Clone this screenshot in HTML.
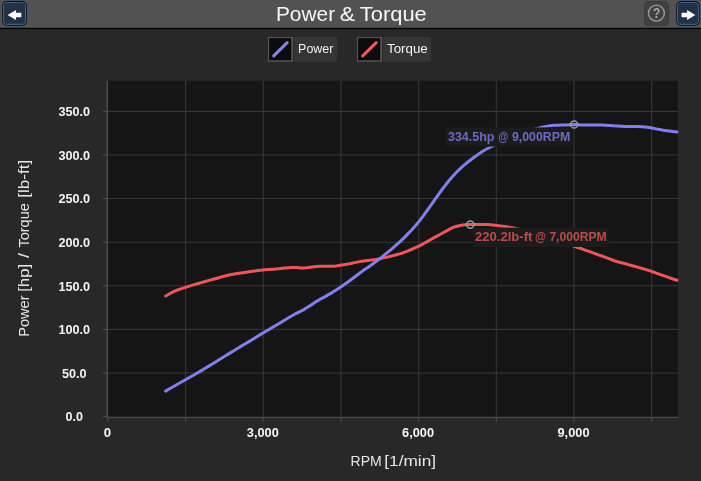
<!DOCTYPE html>
<html><head><meta charset="utf-8"><title>Power &amp; Torque</title>
<style>
html,body{margin:0;padding:0;}
body{width:701px;height:481px;background:#282828;overflow:hidden;position:relative;font-family:"Liberation Sans","DejaVu Sans",sans-serif;}
svg{position:absolute;left:0;top:0;display:block;}
svg text{font-family:"Liberation Sans","DejaVu Sans",sans-serif;}
.tk{font-size:12px;font-weight:bold;fill:#f4f4f4;}
.ax{font-size:14px;fill:#e6e6e6;}
.lg{font-size:12.5px;fill:#f2f2f2;}
.ttl{font-size:19.5px;fill:#f6f6f6;}
.pk{font-size:12px;font-weight:bold;}
</style></head><body>
<svg width="701" height="481" viewBox="0 0 701 481">
<!-- header -->
<rect x="0" y="0" width="701" height="28" fill="#525252"/>
<rect x="0" y="27.8" width="701" height="1.3" fill="#020202"/>
<text x="275.9" y="20.9" textLength="59.2" lengthAdjust="spacingAndGlyphs" class="ttl" >Power</text>
<text x="339.7" y="20.9" textLength="15.3" lengthAdjust="spacingAndGlyphs" class="ttl" >&amp;</text>
<text x="359.8" y="20.9" textLength="67" lengthAdjust="spacingAndGlyphs" class="ttl" >Torque</text>

<rect x="2.0999999999999996" y="1.1" width="24.799999999999997" height="24.6" rx="5" fill="#0b0b0b"/>
<rect x="2.8" y="1.9" width="23.4" height="23.1" rx="4.5" fill="#3a5f8b"/>
<rect x="3.9499999999999997" y="3.05" width="21.099999999999998" height="20.8" rx="3.4" fill="#223145"/>
<path d="M7.6 14.95 L16 9.9 L16 12.7 L21.3 12.7 L21.3 17.2 L16 17.2 L16 20 Z" fill="#fff"/>
<rect x="676.1999999999999" y="1.1" width="23.599999999999998" height="24.6" rx="5" fill="#0b0b0b"/>
<rect x="676.9" y="1.9" width="22.2" height="23.1" rx="4.5" fill="#3a5f8b"/>
<rect x="678.05" y="3.05" width="19.9" height="20.8" rx="3.4" fill="#223145"/>
<path d="M695.3 14.95 L687.1 9.9 L687.1 12.7 L681.6 12.7 L681.6 17.2 L687.1 17.2 L687.1 20 Z" fill="#fff"/>
<rect x="644.1" y="1.1" width="24.7" height="24.6" rx="4.5" fill="#383838"/>
<rect x="645" y="2" width="22.9" height="22.8" rx="3.8" fill="#414141"/>
<circle cx="656.4" cy="13.1" r="8" fill="none" stroke="#9a9a9a" stroke-width="1.4"/>
<text transform="translate(656.6 18.3) scale(0.84 1)" text-anchor="middle" font-size="14.2" font-weight="bold" fill="#a6a6a6">?</text>
<!-- legend -->
<rect x="268" y="37" width="25" height="24.7" fill="#565656"/>
<rect x="269.1" y="38.1" width="22.2" height="22.2" fill="#0c0c0c"/>
<rect x="294" y="37" width="43" height="24.7" fill="#353535"/>
<line x1="273.7" y1="55.9" x2="287.2" y2="42.6" stroke="#8482f0" stroke-width="3" stroke-linecap="round"/>
<text x="298.1" y="53.1" textLength="35.2" lengthAdjust="spacingAndGlyphs" class="lg" >Power</text>

<rect x="357" y="37" width="25" height="24.7" fill="#565656"/>
<rect x="358.1" y="38.1" width="22.2" height="22.2" fill="#0c0c0c"/>
<rect x="383" y="37" width="48" height="24.7" fill="#353535"/>
<line x1="362.7" y1="55.9" x2="376.2" y2="42.6" stroke="#f25a5e" stroke-width="3" stroke-linecap="round"/>
<text x="387" y="53.1" textLength="40.8" lengthAdjust="spacingAndGlyphs" class="lg" >Torque</text>

<!-- plot -->
<rect x="108" y="80.8" width="570" height="336.4" fill="#151515"/>
<line x1="185.58" y1="81" x2="185.58" y2="417" stroke="#363636" stroke-width="1.1"/>
<line x1="185.58" y1="417" x2="185.58" y2="421.7" stroke="#4b4b4b" stroke-width="1.2"/>
<line x1="263.26" y1="81" x2="263.26" y2="417" stroke="#363636" stroke-width="1.1"/>
<line x1="263.26" y1="417" x2="263.26" y2="421.7" stroke="#4b4b4b" stroke-width="1.2"/>
<line x1="340.94" y1="81" x2="340.94" y2="417" stroke="#363636" stroke-width="1.1"/>
<line x1="340.94" y1="417" x2="340.94" y2="421.7" stroke="#4b4b4b" stroke-width="1.2"/>
<line x1="418.62" y1="81" x2="418.62" y2="417" stroke="#363636" stroke-width="1.1"/>
<line x1="418.62" y1="417" x2="418.62" y2="421.7" stroke="#4b4b4b" stroke-width="1.2"/>
<line x1="496.30" y1="81" x2="496.30" y2="417" stroke="#363636" stroke-width="1.1"/>
<line x1="496.30" y1="417" x2="496.30" y2="421.7" stroke="#4b4b4b" stroke-width="1.2"/>
<line x1="573.98" y1="81" x2="573.98" y2="417" stroke="#363636" stroke-width="1.1"/>
<line x1="573.98" y1="417" x2="573.98" y2="421.7" stroke="#4b4b4b" stroke-width="1.2"/>
<line x1="651.66" y1="81" x2="651.66" y2="417" stroke="#363636" stroke-width="1.1"/>
<line x1="651.66" y1="417" x2="651.66" y2="421.7" stroke="#4b4b4b" stroke-width="1.2"/>
<line x1="108" y1="373.03" x2="678" y2="373.03" stroke="#363636" stroke-width="1.1"/>
<line x1="108" y1="329.42" x2="678" y2="329.42" stroke="#363636" stroke-width="1.1"/>
<line x1="108" y1="285.80" x2="678" y2="285.80" stroke="#363636" stroke-width="1.1"/>
<line x1="108" y1="242.19" x2="678" y2="242.19" stroke="#363636" stroke-width="1.1"/>
<line x1="108" y1="198.57" x2="678" y2="198.57" stroke="#363636" stroke-width="1.1"/>
<line x1="108" y1="154.96" x2="678" y2="154.96" stroke="#363636" stroke-width="1.1"/>
<line x1="108" y1="111.34" x2="678" y2="111.34" stroke="#363636" stroke-width="1.1"/>

<line x1="107.3" y1="80.8" x2="107.3" y2="417.5" stroke="#4b4b4b" stroke-width="1.6"/>
<line x1="106.6" y1="417.4" x2="678" y2="417.4" stroke="#4b4b4b" stroke-width="1.4"/>
<line x1="107.8" y1="417" x2="107.8" y2="421.7" stroke="#4b4b4b" stroke-width="1.2"/>
<line x1="103" y1="416.65" x2="108" y2="416.65" stroke="#4b4b4b" stroke-width="1.2"/>
<line x1="103" y1="373.03" x2="108" y2="373.03" stroke="#4b4b4b" stroke-width="1.2"/>
<line x1="103" y1="329.42" x2="108" y2="329.42" stroke="#4b4b4b" stroke-width="1.2"/>
<line x1="103" y1="285.80" x2="108" y2="285.80" stroke="#4b4b4b" stroke-width="1.2"/>
<line x1="103" y1="242.19" x2="108" y2="242.19" stroke="#4b4b4b" stroke-width="1.2"/>
<line x1="103" y1="198.57" x2="108" y2="198.57" stroke="#4b4b4b" stroke-width="1.2"/>
<line x1="103" y1="154.96" x2="108" y2="154.96" stroke="#4b4b4b" stroke-width="1.2"/>
<line x1="103" y1="111.34" x2="108" y2="111.34" stroke="#4b4b4b" stroke-width="1.2"/>

<text x="65.6" y="421.4" textLength="17.4" lengthAdjust="spacingAndGlyphs" class="tk" >0.0</text>
<text x="62.0" y="377.8" textLength="24.6" lengthAdjust="spacingAndGlyphs" class="tk" >50.0</text>
<text x="58.4" y="334.2" textLength="31.8" lengthAdjust="spacingAndGlyphs" class="tk" >100.0</text>
<text x="58.4" y="290.6" textLength="31.8" lengthAdjust="spacingAndGlyphs" class="tk" >150.0</text>
<text x="58.4" y="247.0" textLength="31.8" lengthAdjust="spacingAndGlyphs" class="tk" >200.0</text>
<text x="58.4" y="203.4" textLength="31.8" lengthAdjust="spacingAndGlyphs" class="tk" >250.0</text>
<text x="58.4" y="159.8" textLength="31.8" lengthAdjust="spacingAndGlyphs" class="tk" >300.0</text>
<text x="58.4" y="116.1" textLength="31.8" lengthAdjust="spacingAndGlyphs" class="tk" >350.0</text>

<text x="103.7" y="437.1" textLength="7.4" lengthAdjust="spacingAndGlyphs" class="tk" >0</text>
<text x="246.8" y="437.1" textLength="32" lengthAdjust="spacingAndGlyphs" class="tk" >3,000</text>
<text x="402.1" y="437.1" textLength="32" lengthAdjust="spacingAndGlyphs" class="tk" >6,000</text>
<text x="557.5" y="437.1" textLength="32" lengthAdjust="spacingAndGlyphs" class="tk" >9,000</text>

<polyline points="165.6,296.0 169.6,293.7 173.5,291.6 177.5,290.0 181.5,288.6 185.4,287.4 189.4,286.1 193.4,284.9 197.3,283.7 201.3,282.6 205.2,281.5 209.2,280.4 213.2,279.3 217.1,278.2 221.1,277.0 225.1,276.0 229.0,275.0 233.0,274.2 237.0,273.6 240.9,273.0 244.9,272.4 248.9,271.8 252.8,271.2 256.8,270.7 260.7,270.2 264.7,269.8 268.7,269.5 272.6,269.2 276.6,268.9 280.6,268.6 284.5,268.1 288.5,267.7 292.5,267.5 296.4,267.6 300.4,267.9 304.4,268.0 308.3,267.6 312.3,267.0 316.2,266.4 320.2,266.2 324.2,266.2 328.1,266.3 332.1,266.2 336.1,265.9 340.0,265.3 344.0,264.7 348.0,264.1 351.9,263.2 355.9,262.4 359.9,261.6 363.8,261.0 367.8,260.4 371.7,260.0 375.7,259.4 379.7,258.7 383.6,257.9 387.6,257.0 391.6,256.0 395.5,255.0 399.5,253.9 403.5,252.7 407.4,251.2 411.4,249.5 415.4,247.7 419.3,245.9 423.3,243.8 427.2,241.6 431.2,239.3 435.2,237.1 439.1,235.0 443.1,232.8 447.1,230.6 451.0,228.4 455.0,226.7 459.0,225.8 462.9,225.0 466.9,224.5 470.9,224.4 474.8,224.4 478.8,224.4 482.7,224.4 486.7,224.5 490.7,224.8 494.6,225.2 498.6,225.7 502.6,226.3 506.5,226.8 510.5,227.4 514.5,228.1 518.4,229.0 522.4,230.1 526.4,231.2 530.3,232.2 534.3,233.2 538.2,234.3 542.2,235.4 546.2,236.5 550.1,237.7 554.1,239.0 558.1,240.4 562.0,241.8 566.0,243.3 570.0,244.7 573.9,246.2 577.9,247.5 581.9,248.8 585.8,250.3 589.8,251.7 593.7,253.1 597.7,254.6 601.7,256.0 605.6,257.4 609.6,258.9 613.6,260.5 617.5,261.7 621.5,262.7 625.5,263.8 629.4,264.9 633.4,266.0 637.4,267.1 641.3,268.3 645.3,269.4 649.2,270.7 653.2,272.0 657.2,273.4 661.1,274.8 665.1,276.2 669.1,277.6 673.0,279.0 677.0,280.3" fill="none" stroke="#f0555a" stroke-width="3" stroke-linecap="round" stroke-linejoin="round"/>
<polyline points="165.6,391.1 169.6,388.8 173.5,386.5 177.5,384.2 181.5,382.0 185.4,379.8 189.4,377.5 193.4,375.3 197.3,373.0 201.3,370.6 205.2,368.3 209.2,365.9 213.2,363.5 217.1,361.0 221.1,358.5 225.1,356.0 229.0,353.6 233.0,351.2 237.0,348.8 240.9,346.4 244.9,344.0 248.9,341.6 252.8,339.2 256.8,336.7 260.7,334.4 264.7,332.0 268.7,329.7 272.6,327.3 276.6,325.0 280.6,322.6 284.5,320.2 288.5,317.8 292.5,315.5 296.4,313.3 300.4,311.4 304.4,309.3 308.3,306.8 312.3,304.2 316.2,301.6 320.2,299.2 324.2,297.1 328.1,294.9 332.1,292.6 336.1,290.1 340.0,287.5 344.0,284.8 348.0,282.0 351.9,279.0 355.9,276.0 359.9,273.0 363.8,270.1 367.8,267.4 371.7,264.7 375.7,261.8 379.7,258.8 383.6,255.6 387.6,252.4 391.6,249.1 395.5,245.7 399.5,242.2 403.5,238.4 407.4,234.4 411.4,230.2 415.4,225.8 419.3,221.1 423.3,215.9 427.2,210.4 431.2,204.8 435.2,199.2 439.1,193.6 443.1,188.1 447.1,183.0 451.0,178.2 455.0,173.7 459.0,169.8 462.9,166.2 466.9,162.8 470.9,159.7 474.8,156.7 478.8,153.9 482.7,151.3 486.7,149.0 490.7,147.0 494.6,145.1 498.6,143.0 502.6,140.8 506.5,138.8 510.5,136.9 514.5,135.1 518.4,133.5 522.4,132.3 526.4,131.2 530.3,130.2 534.3,129.1 538.2,128.1 542.2,127.2 546.2,126.4 550.1,125.7 554.1,125.3 558.1,125.2 562.0,125.1 566.0,125.0 570.0,124.7 573.9,124.4 577.9,124.7 581.9,125.1 585.8,125.1 589.8,125.0 593.7,124.9 597.7,124.9 601.7,125.0 605.6,125.2 609.6,125.5 613.6,125.8 617.5,126.0 621.5,126.2 625.5,126.4 629.4,126.5 633.4,126.6 637.4,126.6 641.3,126.7 645.3,127.0 649.2,127.6 653.2,128.3 657.2,129.1 661.1,129.8 665.1,130.6 669.1,131.1 673.0,131.6 677.0,131.9" fill="none" stroke="#8280f0" stroke-width="3" stroke-linecap="round" stroke-linejoin="round"/>
<circle cx="470.3" cy="224.6" r="3.6" fill="none" stroke="#9c9c9c" stroke-width="1.5"/>
<circle cx="574.1" cy="124.5" r="3.6" fill="none" stroke="#9c9c9c" stroke-width="1.5"/>
<rect x="473.2" y="227.6" width="135.2" height="19.4" fill="#1c1c1c"/>
<text x="475" y="241.2" textLength="57.4" lengthAdjust="spacingAndGlyphs" class="pk" fill="#bf4a4c">220.2lb-ft</text>
<text x="535" y="241.2" textLength="11" lengthAdjust="spacingAndGlyphs" class="pk" fill="#bf4a4c">@</text>
<text x="549.4" y="241.2" textLength="57.2" lengthAdjust="spacingAndGlyphs" class="pk" fill="#bf4a4c">7,000RPM</text>

<rect x="446" y="127.4" width="125.8" height="19.2" fill="#1c1c1c"/>
<text x="448" y="141" textLength="46.4" lengthAdjust="spacingAndGlyphs" class="pk" fill="#6c6ac2">334.5hp</text>
<text x="498.2" y="141" textLength="10.2" lengthAdjust="spacingAndGlyphs" class="pk" fill="#6c6ac2">@</text>
<text x="512" y="141" textLength="58.2" lengthAdjust="spacingAndGlyphs" class="pk" fill="#6c6ac2">9,000RPM</text>

<text x="350.5" y="466.4" textLength="31.2" lengthAdjust="spacingAndGlyphs" class="ax" >RPM</text>
<text x="384.3" y="466.4" textLength="51.8" lengthAdjust="spacingAndGlyphs" class="ax" >[1/min]</text>

<g transform="translate(29.4 0) rotate(-90)">
<text x="-336.8" y="0" textLength="41.3" lengthAdjust="spacingAndGlyphs" class="ax" >Power</text>
<text x="-291.8" y="0" textLength="28" lengthAdjust="spacingAndGlyphs" class="ax" >[hp]</text>
<text x="-257.9" y="0" textLength="5" lengthAdjust="spacingAndGlyphs" class="ax" >/</text>
<text x="-247.6" y="0" textLength="44.5" lengthAdjust="spacingAndGlyphs" class="ax" >Torque</text>
<text x="-197.8" y="0" textLength="38" lengthAdjust="spacingAndGlyphs" class="ax" >[lb-ft]</text>
</g>
</svg>
</body></html>
